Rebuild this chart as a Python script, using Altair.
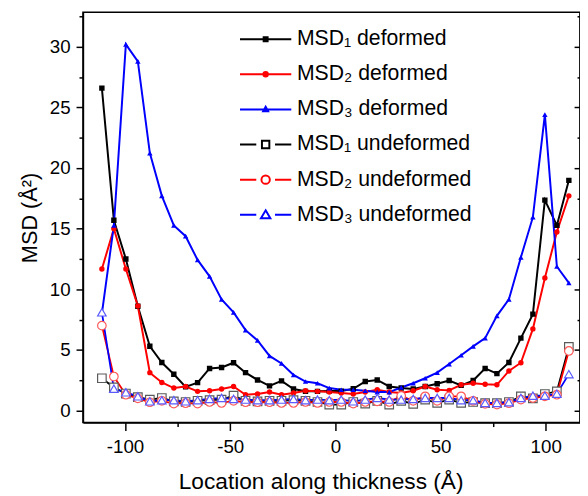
import altair as alt
import pandas as pd

# Locations along thickness (Å)
location = [-111.0, -105.3, -99.6, -93.9, -88.2, -82.5, -76.8, -71.2, -65.5, -59.8,
            -54.1, -48.4, -42.7, -37.0, -31.3, -25.6, -19.9, -14.2, -8.5, -2.9,
            2.8, 8.5, 14.2, 19.9, 25.6, 31.3, 37.0, 42.7, 48.4, 54.1,
            59.8, 65.5, 71.2, 76.8, 82.5, 88.2, 93.9, 99.6, 105.3, 111.0]

msd1_def = [26.6, 15.7, 12.5, 8.6, 5.3, 3.96, 2.99, 1.95, 2.3, 3.47,
            3.55, 3.94, 3.12, 2.52, 2.03, 2.44, 1.77, 1.58, 1.58, 1.6,
            1.6, 1.79, 2.39, 2.52, 1.98, 1.85, 1.77, 1.98, 2.2, 2.47,
            2.07, 2.47, 3.47, 3.04, 3.96, 5.97, 7.95, 17.36, 15.27, 18.99]
msd2_def = [11.67, 15.0, 11.67, 8.62, 3.12, 2.31, 1.85, 1.98, 1.58, 1.63,
            1.77, 1.98, 1.3, 1.36, 1.52, 1.3, 1.44, 1.63, 1.58, 1.52,
            1.44, 1.36, 1.52, 1.71, 1.52, 1.44, 1.63, 1.98, 1.71, 1.66,
            2.12, 2.25, 2.17, 2.12, 3.26, 3.94, 6.73, 10.93, 14.73, 17.71]
msd3_def = [8.0, 15.27, 30.2, 28.8, 21.24, 17.71, 15.27, 14.38, 12.42, 11.07,
            9.17, 8.09, 6.63, 5.78, 4.5, 3.88, 2.93, 2.39, 2.25, 1.85,
            1.71, 1.71, 1.63, 1.52, 1.52, 1.9, 2.25, 2.66, 3.13, 3.83,
            4.56, 5.29, 5.97, 7.81, 9.17, 12.64, 15.95, 24.41, 11.88, 10.53]
msd1_und = [2.66, 1.9, 1.4, 1.1, 0.9, 1.03, 0.75, 0.7, 0.8, 0.85,
            0.9, 1.22, 0.8, 0.75, 0.8, 0.8, 0.85, 0.8, 0.7, 0.49,
            0.49, 0.7, 0.57, 0.8, 0.49, 0.8, 0.55, 0.9, 0.63, 0.9,
            0.63, 0.7, 0.6, 0.6, 0.7, 1.17, 1.0, 1.36, 1.58, 5.24]
msd2_und = [7.0, 2.8, 1.3, 1.0, 0.68, 0.8, 0.57, 0.6, 0.57, 0.7,
            0.62, 0.8, 0.68, 0.68, 0.68, 0.62, 0.62, 0.7, 0.62, 0.7,
            0.7, 0.57, 0.7, 0.76, 0.7, 1.2, 0.8, 1.17, 0.8, 1.17,
            1.17, 0.8, 0.55, 0.49, 0.6, 0.9, 1.03, 1.17, 1.3, 4.91]
msd3_und = [8.1, 1.8, 1.5, 1.17, 0.76, 0.85, 0.85, 0.76, 0.85, 0.95,
            1.03, 0.95, 0.9, 0.85, 0.85, 0.9, 0.95, 0.85, 0.9, 0.85,
            0.9, 0.76, 0.9, 1.03, 0.9, 0.9, 0.95, 1.03, 1.03, 1.03,
            0.85, 0.85, 0.63, 0.63, 0.68, 1.03, 1.22, 1.22, 1.38, 3.0]

def_names = ["MSD₁ deformed", "MSD₂ deformed", "MSD₃ deformed"]
und_names = ["MSD₁ undeformed", "MSD₂ undeformed", "MSD₃ undeformed"]
all_names = def_names + und_names

series_values = [msd1_def, msd2_def, msd3_def, msd1_und, msd2_und, msd3_und]
rows = []
for name, vals in zip(all_names, series_values):
    for i, (xv, yv) in enumerate(zip(location, vals)):
        rows.append({"x": xv, "value": yv, "series": name, "i": i})
df = pd.DataFrame(rows)

line_colors = ["#000000", "#ff0000", "#0000ff"]
open_colors = ["#5a5a5a", "#ff5a5a", "#5a5aff"]

FONT = "Liberation Sans"
xscale = alt.Scale(domain=[-120.0, 116.3], nice=False, zero=False)
yscale = alt.Scale(domain=[-1.0, 32.85], nice=False, zero=False)

x_axis = alt.Axis(
    values=[-100, -75, -50, -25, 0, 25, 50, 75, 100],
    labelExpr="datum.value % 50 === 0 ? '' + datum.value : ''",
    tickSize={"condition": {"test": "datum.value % 50 === 0", "value": 8}, "value": 4},
    labelPadding=7, title="Location along thickness (Å)", titlePadding=15, grid=False,
    titleFontSize=23, titleX=241, titleAlign="center",
)
y_axis = alt.Axis(
    values=[0, 2.5, 5, 7.5, 10, 12.5, 15, 17.5, 20, 22.5, 25, 27.5, 30, 32.5],
    labelExpr="datum.value % 5 === 0 ? datum.label : ''",
    tickSize={"condition": {"test": "datum.value % 5 === 0", "value": 7}, "value": 4},
    labelPadding=6, title="MSD (Å²)", titlePadding=8, grid=False,
)

X = alt.X("x:Q", scale=xscale, axis=x_axis)
Y = alt.Y("value:Q", scale=yscale, axis=y_axis)

base_def = alt.Chart(df).transform_filter(alt.FieldOneOfPredicate(field="series", oneOf=def_names))
base_und = alt.Chart(df).transform_filter(alt.FieldOneOfPredicate(field="series", oneOf=und_names))

def_lines = base_def.mark_line(strokeWidth=2, clip=True).encode(
    x=X, y=Y,
    color=alt.Color("series:N", scale=alt.Scale(domain=def_names, range=line_colors), legend=None),
    order="i:Q",
)
def_points = base_def.mark_point(filled=True, size=30, opacity=1, clip=True).encode(
    x=X, y=Y,
    color=alt.Color("series:N", scale=alt.Scale(domain=def_names, range=line_colors), legend=None),
    shape=alt.Shape("series:N", scale=alt.Scale(domain=def_names, range=["square", "circle", "triangle-up"]), legend=None),
)
und_lines = base_und.mark_line(strokeWidth=1.8, clip=True).encode(
    x=X, y=Y,
    color=alt.Color("series:N", scale=alt.Scale(domain=und_names, range=line_colors), legend=None),
    order="i:Q",
)
und_points = base_und.mark_point(filled=False, fill="white", fillOpacity=1, size=75, strokeWidth=1.2, opacity=1, clip=True).encode(
    x=X, y=Y,
    color=alt.Color("series:N", scale=alt.Scale(domain=und_names, range=open_colors), legend=None),
    shape=alt.Shape("series:N", scale=alt.Scale(domain=und_names, range=["square", "circle", "triangle-up"]), legend=None),
)

legend_paths = [
    "M-5.2,0H5.2M-0.4,-0.4H0.4V0.4H-0.4Z",
    "M-5.2,0H5.2M0.45,0A0.45,0.45,0,1,1,-0.45,0A0.45,0.45,0,1,1,0.45,0Z",
    "M-5.2,0H5.2M0,-0.55L0.5,0.35H-0.5Z",
    "M-5.2,0H-1.9M1.9,0H5.2M-0.75,-0.75H0.75V0.75H-0.75Z",
    "M-5.2,0H-1.9M1.9,0H5.2M0.85,0A0.85,0.85,0,1,1,-0.85,0A0.85,0.85,0,1,1,0.85,0Z",
    "M-5.2,0H-1.9M1.9,0H5.2M0,-0.9L0.95,0.7H-0.95Z",
]
leg = alt.Legend(
    title=None, orient="none", legendX=156, legendY=16.5, padding=0,
    symbolSize=100, symbolStrokeWidth=2, symbolOffset=18.5, labelOffset=21,
    labelFont=FONT, labelFontSize=21.5, labelColor="black", labelLimit=400,
    rowPadding=12.6,
)
legend_layer = alt.Chart(df).transform_filter("false").mark_point(opacity=1).encode(
    y=alt.Y("value:Q", scale=yscale, axis=alt.Axis(
        orient="left", offset=-504, labels=False, title=None, domain=False, grid=False,
        values=[0, 2.5, 5, 7.5, 10, 12.5, 15, 17.5, 20, 22.5, 25, 27.5, 30, 32.5],
        tickSize={"condition": {"test": "datum.value % 5 === 0", "value": 6}, "value": 3},
    )),
    fill=alt.Fill("series:N", scale=alt.Scale(domain=all_names, range=line_colors + ["white"] * 3), legend=leg),
    stroke=alt.Stroke("series:N", scale=alt.Scale(domain=all_names, range=line_colors * 2), legend=leg),
    shape=alt.Shape("series:N", scale=alt.Scale(domain=all_names, range=legend_paths), legend=leg),
)

chart = alt.layer(def_lines, def_points, und_lines, und_points, legend_layer).resolve_scale(
    color="independent", shape="independent", fill="independent", stroke="independent"
).resolve_axis(y="independent").properties(
    width=504, height=416,
    autosize=alt.AutoSizeParams(type="none"),
    padding={"left": 76, "top": 1, "right": 0, "bottom": 70},
).configure(font=FONT).configure_view(
    stroke="black", strokeWidth=1.5
).configure_axis(
    domainColor="black", domainWidth=1.5, tickColor="black", tickWidth=1.5,
    labelColor="black", titleColor="black", labelFont=FONT, titleFont=FONT,
    labelFontSize=19, titleFontSize=22, titleFontWeight="normal",
)

chart.save("out.html", embed_options={"renderer": "svg", "actions": False})
